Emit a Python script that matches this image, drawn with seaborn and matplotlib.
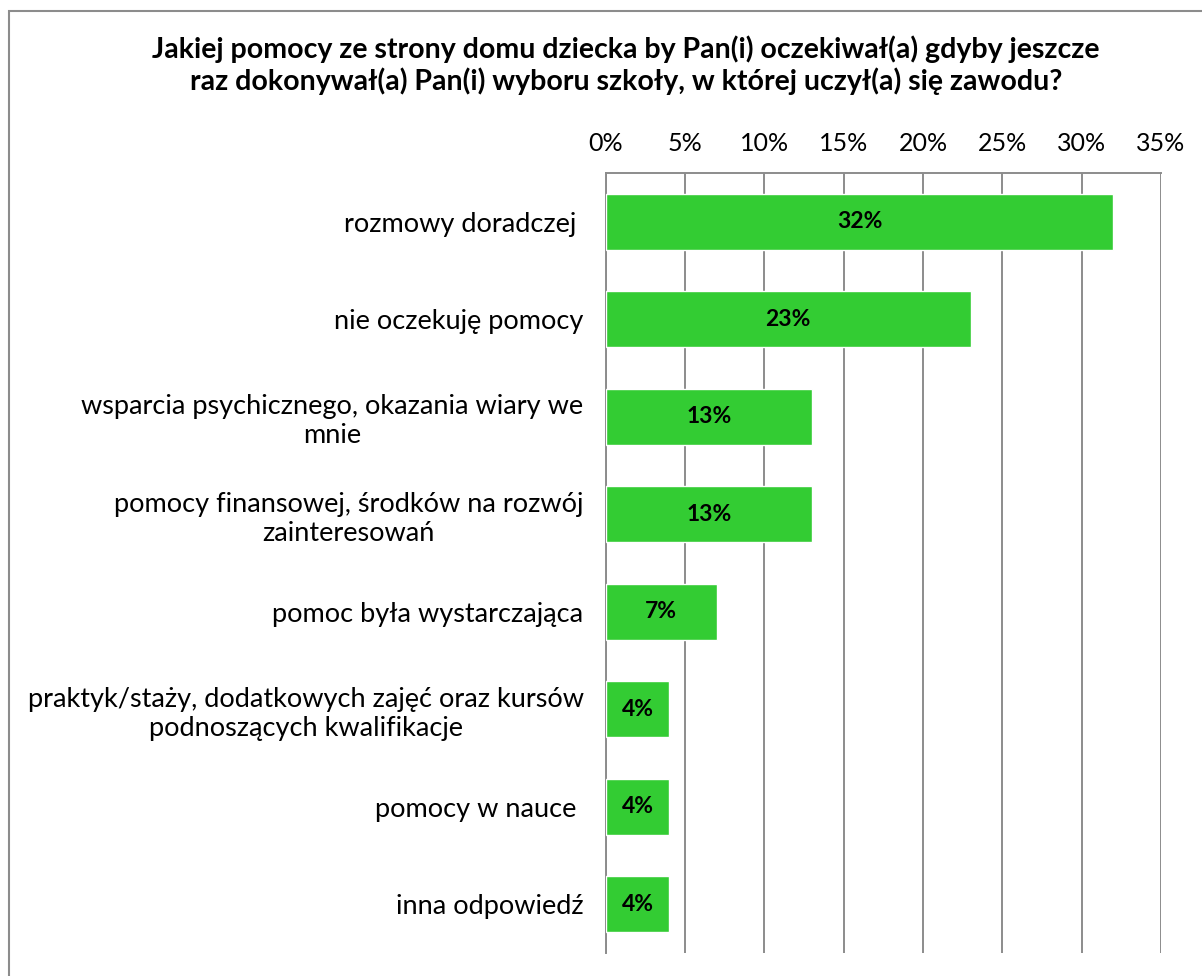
import matplotlib
matplotlib.use("Agg")
import matplotlib.pyplot as plt
import seaborn as sns
import pandas as pd
from matplotlib.patches import Rectangle

categories = [
    "rozmowy doradczej ",
    "nie oczekuję pomocy",
    "wsparcia psychicznego, okazania wiary we\nmnie",
    "pomocy finansowej, środków na rozwój\nzainteresowań",
    "pomoc była wystarczająca",
    "praktyk/staży, dodatkowych zajęć oraz kursów\npodnoszących kwalifikacje",
    "pomocy w nauce ",
    "inna odpowiedź",
]
values = [32, 23, 13, 13, 7, 4, 4, 4]
xticks = [0, 5, 10, 15, 20, 25, 30, 35]
title = ("Jakiej pomocy ze strony domu dziecka by Pan(i) oczekiwał(a) gdyby jeszcze\n"
         "raz dokonywał(a) Pan(i) wyboru szkoły, w której uczył(a) się zawodu?")

df = pd.DataFrame({"kategoria": categories, "procent": values})

sns.set_theme(style="white")
plt.rcParams["font.family"] = ["Lato", "DejaVu Sans"]

fig = plt.figure(figsize=(12.02, 9.76), dpi=100)
ax = fig.add_axes([0.504, 0.0236, 0.9659 - 0.504, 0.8227 - 0.0236])

sns.barplot(data=df, x="procent", y="kategoria", orient="h",
            color="#33CC33", saturation=1, width=0.57, ax=ax, zorder=3)

ax.set_xlim(0, 35)
ax.set_ylim(len(categories) - 0.5, -0.5)
ax.set_xticks(xticks)
ax.set_xticklabels([f"{t}%" for t in xticks])
ax.xaxis.tick_top()
ax.set_xlabel("")
ax.set_ylabel("")
ax.tick_params(axis="x", length=0, pad=13, labelsize=18, colors="black")
ax.tick_params(axis="y", length=0, pad=16, labelsize=19.5, colors="black")
for lbl in ax.get_yticklabels():
    lbl.set_multialignment("center")

ax.grid(axis="x", color="#8c8c8c", linewidth=1.4, zorder=0)
ax.grid(axis="y", visible=False)
for side in ["top", "left"]:
    ax.spines[side].set_visible(True)
    ax.spines[side].set_color("#8c8c8c")
    ax.spines[side].set_linewidth(1.4)
ax.spines["bottom"].set_visible(False)
ax.spines["right"].set_visible(False)

for i, v in enumerate(values):
    ax.text(v / 2, i, f"{v}%", ha="center", va="center",
            fontsize=16.5, fontweight="bold", color="black", zorder=4)

fig.text(0.521, 0.933, title, ha="center", va="center", fontsize=20.5,
         fontweight="bold", linespacing=1.2, color="black")

# chart-area frame: starts near the top-left corner and runs past the right/bottom edges
fig.patches.append(Rectangle((9 / 1202, -0.05), 1.1, 1 - 10.5 / 976 + 0.05,
                             transform=fig.transFigure, fill=False,
                             edgecolor="#8c8c8c", linewidth=1.5))

fig.savefig("out.png", dpi=100)
